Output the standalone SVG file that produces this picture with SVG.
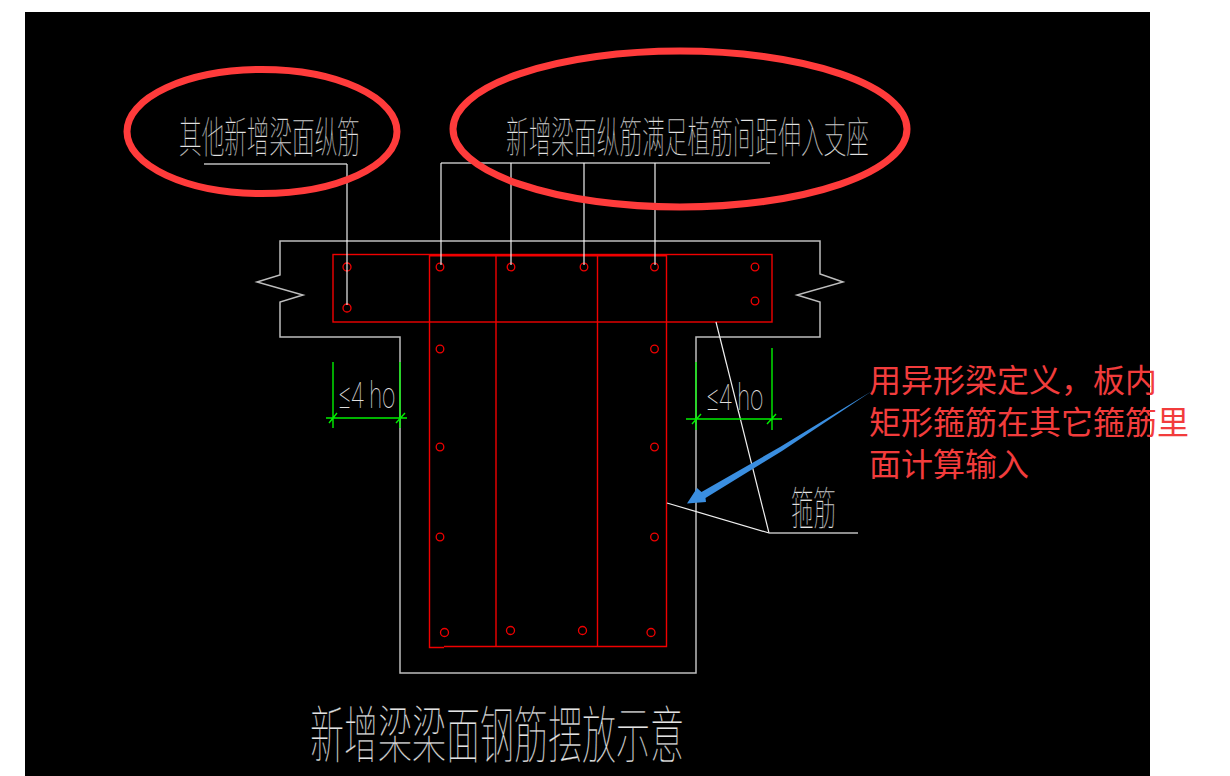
<svg xmlns="http://www.w3.org/2000/svg" width="1230" height="776" viewBox="0 0 1230 776">
<style>
.w{fill:none;stroke:#bdbdbd;stroke-width:1.5}
.l{fill:none;stroke:#efefef;stroke-width:1.2}
.r{fill:none;stroke:#f00000;stroke-width:1.4}
.g{fill:none;stroke:#00f000;stroke-width:1.4}
.b{fill:none;stroke:#f00000;stroke-width:1.3}
.o{fill:none;stroke:#ff3b3b;stroke-width:7}
.c{font-family:"Noto Sans CJK SC","Liberation Sans",sans-serif;font-weight:100;fill:#e4e4e4;stroke:#000;stroke-width:.25}
.d{font-family:Roboto,"Liberation Sans",sans-serif;font-weight:100;fill:#e0e0e0}
.t{font-family:"Noto Sans CJK SC","Liberation Sans",sans-serif;font-size:32px;fill:#f23c3c}
</style>
<rect width="1230" height="776" fill="#fff"/>
<rect x="25" y="12" width="1125" height="764" fill="#000"/>
<g id="outline">
<path class="w" d="M280 241H820V274L843 282L797 295L820 302V337H696V673H400V337H280V302L303 295L257 282L280 275Z"/>
</g>
<g id="rebar">
<rect class="r" x="333" y="254.5" width="439" height="67.500"/>
<path class="r" d="M429.500 254.500V647.500H444M444 646.500H666.500V254.500"/>
<path class="r" d="M496 254.500V646.500M597.500 254.500V646.500"/>
<path d="M430 255.500H666" stroke="#f00000" stroke-width="2" fill="none"/>
<g class="b">
<circle cx="347" cy="267" r="4"/><circle cx="347" cy="308" r="4"/>
<circle cx="440" cy="267" r="3.800"/><circle cx="511" cy="267" r="3.800"/><circle cx="584" cy="267" r="3.800"/><circle cx="654.500" cy="267" r="3.800"/>
<circle cx="755" cy="267" r="3.800"/><circle cx="755" cy="301" r="3.800"/>
<circle cx="440" cy="349" r="3.800"/><circle cx="440" cy="447" r="3.800"/><circle cx="440" cy="537" r="3.800"/>
<circle cx="654.500" cy="349" r="3.800"/><circle cx="654.500" cy="447" r="3.800"/><circle cx="654.500" cy="537" r="3.800"/>
<circle cx="444.500" cy="632.500" r="4"/><circle cx="510.500" cy="630.500" r="4"/><circle cx="582.500" cy="630.500" r="4"/><circle cx="651" cy="632.500" r="4"/>
</g>
</g>
<g id="connectors">
<path class="w" d="M204 164H347"/>
<path class="l" d="M347 164V305"/>
<path class="w" d="M441 163H770"/>
<path class="l" d="M441 163V265M511 163V265M584 163V265M655 163V265"/>
<path class="l" d="M716 322L769 533"/>
<path class="l" d="M667 503L769 533"/>
<path class="w" d="M769 533H858"/>
</g>
<g id="dimension-left">
<path class="g" d="M333 362V428M400 362V428M326 418H407M329 423L337 413M396 423L405 413"/>
<text class="d" x="339" y="408" font-size="36" textLength="56" lengthAdjust="spacingAndGlyphs">≤4 ho</text>
</g>
<g id="dimension-right">
<path class="g" d="M696 362V430M772 348V430M686 419H782M692 424L701 414M767 424L776 414"/>
<text class="d" x="707" y="410" font-size="36" textLength="56" lengthAdjust="spacingAndGlyphs">≤4 ho</text>
</g>
<g id="label-other">
<text class="c" x="179" y="153" font-size="43" textLength="181" lengthAdjust="spacingAndGlyphs">其他新增梁面纵筋</text>
<ellipse class="o" cx="262" cy="131.500" rx="135" ry="62"/>
</g>
<g id="label-new">
<text class="c" x="506" y="153" font-size="43" textLength="363" lengthAdjust="spacingAndGlyphs">新增梁面纵筋满足植筋间距伸入支座</text>
<ellipse class="o" cx="680" cy="129" rx="227" ry="78"/>
</g>
<g id="label-stirrup">
<text class="c" x="791" y="525" font-size="45" textLength="45" lengthAdjust="spacingAndGlyphs">箍筋</text>
</g>
<g id="title">
<text class="c" x="310" y="758" font-size="62" textLength="374" lengthAdjust="spacingAndGlyphs">新增梁梁面钢筋摆放示意</text>
</g>
<g id="note">
<text class="t" x="869" y="392">用异形梁定义&#65292;板内</text>
<text class="t" x="869" y="434">矩形箍筋在其它箍筋里</text>
<text class="t" x="869" y="476">面计算输入</text>
</g>
<g id="arrow">
<path d="M872 391L780 447L701.500 492L697 488L687 503.500L706 502L705.500 498L782 451Z" fill="#3a8ee0"/>
</g>
</svg>
